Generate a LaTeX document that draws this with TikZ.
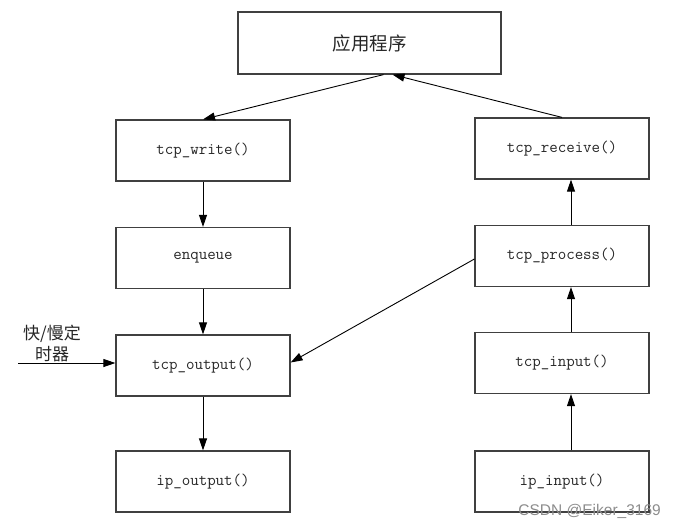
\documentclass[tikz,border=0pt]{standalone}
\usepackage{fontspec}
\newfontfamily\cjk{Noto Sans CJK SC}
\newfontfamily\wmfont{Liberation Sans}
\usetikzlibrary{arrows.meta}
\begin{document}
\begin{tikzpicture}[x=1pt,y=-1pt,
  box/.style={draw=black!75,line width=1.2pt,minimum width=174pt,minimum height=61pt,inner sep=0pt,text=black!85,font=\ttfamily\fontsize{16.5}{18}\selectfont},
  arr/.style={draw=black,line width=0.9pt,-{Triangle[length=12pt,width=8pt]}}]
\useasboundingbox (0,0) rectangle (675,528);
\node[box,minimum width=263pt,minimum height=62pt,font=\cjk\fontsize{18.5}{20}\selectfont] (app) at (369.5,43) {应用程序};
\node[box] (tw) at (203,150.5) {tcp\_write()};
\node[box] (enq) at (203,258) {enqueue};
\node[box] (tout) at (203,365.5) {tcp\_output()};
\node[box] (ipout) at (203,481.5) {ip\_output()};
\node[box] (trecv) at (562,148.5) {tcp\_receive()};
\node[box] (tproc) at (562,256) {tcp\_process()};
\node[box] (tin) at (562,363) {tcp\_input()};
\node[box] (ipin) at (562,481.5) {ip\_input()};
\node[font=\cjk\fontsize{17}{21}\selectfont,align=center,inner sep=0pt,text=black!85] (timerlbl) at (52,343) {快/慢定\\时器};
\coordinate (timer) at (18,363);
\draw[arr] (trecv.north) -- ([xshift=23pt]app.south);
\draw[arr] ([xshift=14pt]app.south) -- (tw.north);
\draw[arr] (tw.south) -- (enq.north);
\draw[arr] (enq.south) -- (tout.north);
\draw[arr] (tout.south) -- (ipout.north);
\draw[arr] ([xshift=9pt]ipin.north) -- ([xshift=9pt]tin.south);
\draw[arr] ([xshift=9pt]tin.north) -- ([xshift=9pt]tproc.south);
\draw[arr] ([xshift=9pt]tproc.north) -- ([xshift=9pt]trecv.south);
\draw[arr] ([yshift=-3pt]tproc.west) -- ([yshift=3pt]tout.east);
\draw[arr] (timer) -- (tout.west |- timer);
\node[font=\wmfont\fontsize{15.5}{17}\selectfont,text=black!45,anchor=east,inner sep=0pt] (wm) at (661,511) {CSDN @Eiker\_3169};
\end{tikzpicture}
\end{document}
